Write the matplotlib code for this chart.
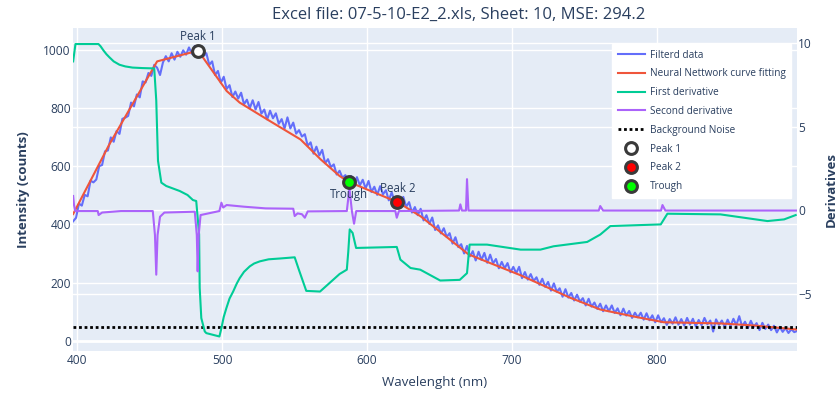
import numpy as np
import matplotlib.pyplot as plt
from matplotlib.lines import Line2D
from matplotlib.transforms import blended_transform_factory

plt.rcParams['font.family'] = ['Open Sans', 'DejaVu Sans']

TXT = '#2a3f5f'

# filtered spectrum, sampled every 2 nm from 397 to 897 nm
wl_start, wl_stop, wl_step = 397, 897, 2
filtered = [
    411, 423, 472, 465, 502, 497, 551, 545, 555, 601,
    605, 652, 655, 700, 685, 722, 712, 764, 768, 774,
    820, 807, 848, 838, 893, 889, 922, 912, 950, 940,
    915, 958, 980, 962, 990, 968, 995, 978, 1000, 985,
    1010, 988, 1015, 992, 1005, 980, 990, 950, 962, 915,
    929, 888, 909, 867, 880, 839, 858, 834, 854, 814,
    830, 801, 828, 796, 822, 782, 796, 762, 792, 766,
    783, 747, 763, 731, 769, 731, 751, 713, 725, 703,
    711, 671, 683, 644, 668, 638, 657, 611, 625, 598,
    607, 572, 585, 561, 570, 550, 567, 537, 563, 535,
    554, 524, 550, 512, 530, 502, 532, 504, 518, 483,
    511, 479, 493, 463, 495, 461, 477, 441, 460, 432,
    454, 414, 432, 402, 424, 381, 397, 369, 387, 357,
    370, 334, 356, 322, 332, 300, 326, 290, 308, 276,
    306, 278, 302, 268, 296, 266, 281, 249, 271, 249,
    267, 235, 254, 232, 254, 215, 236, 210, 229, 205,
    218, 192, 213, 185, 202, 172, 197, 168, 180, 151,
    177, 148, 164, 138, 158, 134, 146, 121, 144, 117,
    131, 109, 127, 101, 121, 101, 121, 95, 111, 87,
    110, 86, 102, 78, 96, 80, 96, 72, 94, 70,
    87, 63, 87, 63, 77, 54, 74, 58, 80, 55,
    74, 52, 78, 55, 75, 49, 71, 53, 78, 56,
    69, 31, 73, 54, 69, 47, 72, 50, 75, 53,
    84, 48, 65, 43, 68, 47, 60, 36, 61, 40,
    55, 36, 51, 28, 47, 30, 43, 26, 39, 29,
    33,
]

# neural network fit
fit_wl = [397, 422, 455, 465, 483.3, 503, 512, 531, 554, 568, 581, 587.7,
          621, 637, 670, 706, 740, 761, 785, 805, 844, 867, 897]
fit_val = [436, 676, 962, 975, 999, 860, 820, 762, 693, 624, 567, 546,
           477, 428, 297, 225, 148, 107, 82, 63, 59, 52, 38]

# first derivative
d1_wl = [397, 398.6, 414.5, 416, 418, 420, 422, 425, 429, 433, 438, 445, 453,
         454.4, 455.6, 457.9, 461.3, 470.6, 476, 479.7, 482, 484, 484.4, 485.5,
         487.9, 489, 498, 499.4, 501, 502.8, 505, 507.5, 510, 512, 515, 519, 522,
         526, 532, 540, 550, 553, 558, 567.5, 581, 586, 587, 588, 590,
         592.4, 620.5, 623, 630, 636.7, 650.5, 664, 669, 670.8, 682.8, 706, 719.7,
         728.8, 752, 761, 768, 802.8, 807.4, 844, 876.5, 888, 896]
d1_val = [8.9, 9.94, 9.94, 9.8, 9.55, 9.33, 9.15, 8.9, 8.7, 8.6, 8.53, 8.5, 8.48,
          6.56, 2.95, 1.64, 1.44, 1.14, 0.9, 0.6, 0.54, -1.46, -4.66, -6.47,
          -7.27, -7.37, -7.57, -7.07, -6.4, -5.88, -5.3, -4.88, -4.4, -4.08, -3.7, -3.37, -3.2,
          -3.07, -2.95, -2.9, -2.83, -3.6, -4.84, -4.88, -3.83, -3.57, -2.5, -1.16, -1.37,
          -2.27, -2.21, -2.97, -3.47, -3.57, -4.22, -4.18, -3.78, -2.07, -2.07, -2.37, -2.37,
          -2.17, -1.91, -1.47, -0.96, -0.86, -0.22, -0.26, -0.66, -0.56, -0.3]

# second derivative
d2_wl = [397, 397.6, 398.5, 414, 414.6, 417, 430, 452, 453.5, 454.4, 455.3, 457,
         460, 481, 482.4, 483, 483.7, 485, 498, 499.4, 500.6, 503, 515, 530, 549,
         550, 552, 555, 557, 559, 586, 587.8, 589.5, 591, 592.5, 619.5, 620.5, 622,
         663.5, 664.4, 665.5, 668.3, 669, 670, 760, 761, 763, 803, 804, 806, 897]
d2_val = [0.84, 0.3, -0.06, -0.06, -0.3, -0.15, -0.06, -0.06, -1.5, -3.87, -1.5, -0.4,
          -0.15, -0.1, -1.5, -3.67, -1.5, -0.3, -0.06, 0.44, 0.15, 0.3, 0.2, 0.1, 0.08,
          -0.36, -0.2, -0.25, -0.46, -0.08, -0.06, 1.3, -0.06, -0.82, -0.06, -0.06, -0.46, -0.06,
          -0.03, 0.34, -0.03, -0.03, 1.85, -0.03, -0.03, 0.24, -0.03, -0.03, 0.3, -0.03, -0.03]

noise_level = 47

peak_names = ['Peak 1', 'Peak 2', 'Trough']
peak_wl = [483.3, 621, 587.7]
peak_val = [999, 477, 546]
peak_fill = ['white', 'red', '#00ff00']

wl = np.arange(wl_start, wl_stop + 1, wl_step)

fig = plt.figure(figsize=(8.38, 3.94), dpi=100)
ax = fig.add_axes([73 / 838, 1 - 351 / 394, 724 / 838, 323 / 394])
ax2 = ax.twinx()

ax.set_facecolor('#E5ECF6')
ax.set_xlim(396.9, 896.9)
ax.set_ylim(-36, 1077)
ax2.set_ylim(-8.44, 10.9)

for a in (ax, ax2):
    for s in a.spines.values():
        s.set_visible(False)
    a.tick_params(length=0, labelsize=8.6, labelcolor=TXT)

ax.set_xticks([400, 500, 600, 700, 800])
ax.set_yticks([0, 200, 400, 600, 800, 1000])
ax2.set_yticks([-5, 0, 5, 10])
ax.tick_params(axis='x', pad=2.5)
ax.tick_params(axis='y', pad=1.5)
ax2.tick_params(axis='y', pad=1)

ax.grid(True, color='white', lw=1)
ax.set_axisbelow(True)
ax.axhline(0, color='white', lw=2, zorder=0.6)
ax2.grid(False)
# right-axis grid drawn underneath the data of the left axis
tr = blended_transform_factory(ax.transAxes, ax2.transData)
for v in [-5, 0, 5, 10]:
    ax.plot([0, 1], [v, v], transform=tr, color='white', lw=1, zorder=0.5)

ax.plot(wl, filtered, color='#636EFA', lw=1.5, zorder=2)
ax.plot(fit_wl, fit_val, color='#EF553B', lw=1.5, zorder=3)
ax.axhline(noise_level, color='black', lw=2, ls=(0, (1, 1)), zorder=3)
ax2.plot(d1_wl, d1_val, color='#00CC96', lw=1.5)
ax2.plot(d2_wl, d2_val, color='#AB63FA', lw=1.5)

for name, x, y, fc in zip(peak_names, peak_wl, peak_val, peak_fill):
    ax2.plot([x], [y], 'o', transform=ax.transData, ms=8.5, mfc=fc,
             mec='#3a3a3a', mew=2.2, zorder=5)
    off = -12 if name == 'Trough' else 14
    ax2.annotate(name, xy=(x, y), xycoords=ax.transData, xytext=(0, off),
                 textcoords='offset pixels', ha='center', va='center',
                 fontsize=8.3, color=TXT, zorder=6)

ax.set_xlabel('Wavelenght (nm)', fontsize=9.5, color=TXT, labelpad=6)
ax.set_ylabel('Intensity (counts)', fontsize=9.5, color=TXT, fontweight='bold', labelpad=10)
ax2.set_ylabel('Derivatives', fontsize=9.5, color=TXT, fontweight='bold', labelpad=9)

fig.text(0.547, 0.962, 'Excel file: 07-5-10-E2_2.xls, Sheet: 10, MSE: 294.2',
         ha='center', va='center', fontsize=12, color=TXT)

handles = [
    Line2D([], [], color='#636EFA', lw=1.5),
    Line2D([], [], color='#EF553B', lw=1.5),
    Line2D([], [], color='#00CC96', lw=1.5),
    Line2D([], [], color='#AB63FA', lw=1.5),
    Line2D([], [], color='black', lw=2, ls=(0, (1, 1))),
]
labels = ['Filterd data', 'Neural Nettwork curve fitting', 'First derivative',
          'Second derivative', 'Background Noise']
for fc, name in zip(peak_fill, peak_names):
    handles.append(Line2D([], [], ls='none', marker='o', ms=8.5, mfc=fc,
                          mec='#3a3a3a', mew=2.2))
    labels.append(name)

leg = fig.legend(handles, labels, loc='upper right',
                 bbox_to_anchor=(791 / 838, 1 - 44 / 394), fontsize=7.2,
                 frameon=True, fancybox=False, framealpha=1, edgecolor='white',
                 handlelength=2.7, handletextpad=0.5, labelspacing=0.78,
                 borderpad=0.55, borderaxespad=0)
for t in leg.get_texts():
    t.set_color(TXT)

fig.savefig('out.png', dpi=100)
